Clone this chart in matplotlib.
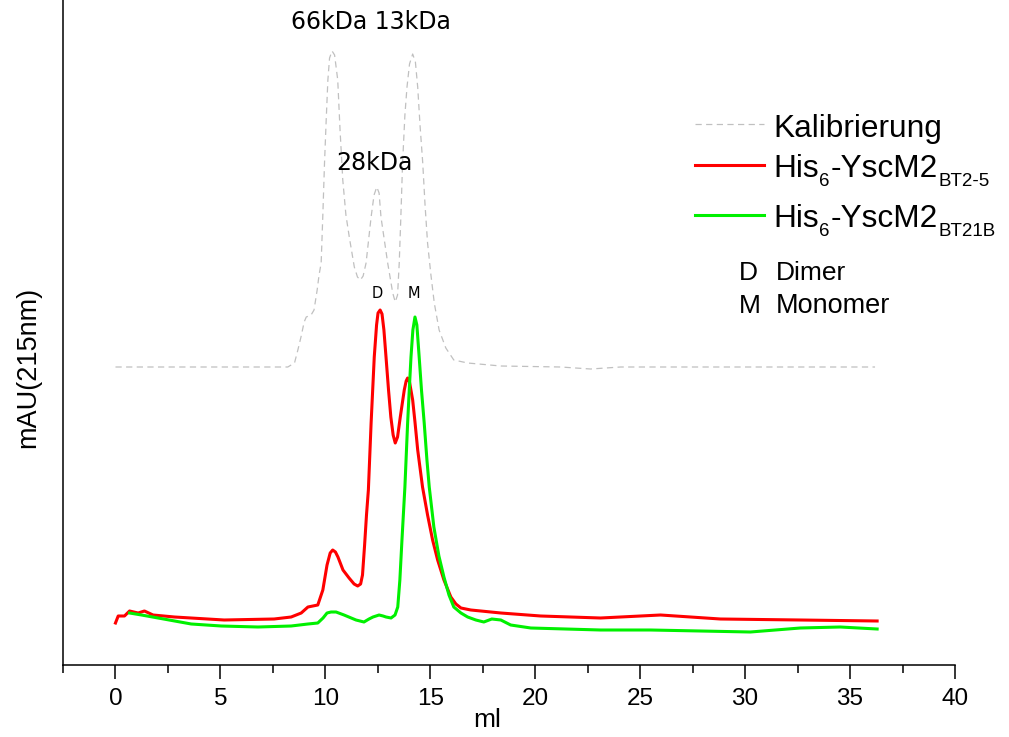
import matplotlib
matplotlib.use("Agg")
import matplotlib.pyplot as plt
import numpy as np

# ---- data (elution volume in ml, absorbance in arbitrary mAU units) ----
red_ml = [0.00, 0.13, 0.43, 0.67, 1.08, 1.38, 1.79, 2.81, 5.18, 7.56, 8.37, 8.85, 9.17, 9.64,
          9.88, 10.08, 10.23, 10.35, 10.48, 10.60, 10.84, 11.13, 11.37, 11.54, 11.68, 11.77,
          11.87, 11.96, 12.05, 12.18, 12.33, 12.44, 12.51, 12.61, 12.70, 12.79, 12.89, 13.01,
          13.12, 13.23, 13.33, 13.44, 13.57, 13.76, 13.85, 13.92, 14.01, 14.16, 14.27, 14.40,
          14.63, 14.87, 15.11, 15.35, 15.65, 15.98, 16.22, 16.46, 16.93, 17.41, 18.36, 20.26,
          23.11, 25.02, 25.97, 27.40, 28.82, 32.63, 36.29]
red_mau = [4.2, 4.9, 4.9, 5.4, 5.2, 5.4, 5.0, 4.8, 4.5, 4.6, 4.8, 5.2, 5.8, 6.0,
           7.5, 10.0, 11.2, 11.5, 11.3, 10.8, 9.5, 8.7, 8.1, 7.9, 8.1, 9.0,
           12.0, 15.0, 17.5, 24.2, 30.8, 34.0, 35.2, 35.5, 35.1, 33.5, 30.8, 27.5,
           24.8, 23.0, 22.2, 22.8, 24.8, 27.5, 28.4, 28.7, 28.3, 26.5, 24.3, 21.5,
           17.8, 15.0, 12.5, 10.5, 8.5, 6.8, 6.1, 5.7, 5.5, 5.4, 5.2, 4.9,
           4.7, 4.9, 5.0, 4.8, 4.6, 4.5, 4.4]

green_ml = [0.67, 1.24, 2.03, 3.61, 5.04, 6.79, 8.37, 9.17, 9.64, 9.89, 10.08, 10.27, 10.51,
            10.89, 11.46, 11.84, 12.08, 12.27, 12.56, 12.75, 12.89, 13.13, 13.32, 13.45, 13.55,
            13.65, 13.79, 13.92, 14.01, 14.08, 14.17, 14.27, 14.36, 14.47, 14.58, 14.71, 14.84,
            14.95, 15.17, 15.41, 15.65, 15.89, 16.12, 16.46, 16.78, 17.17, 17.55, 17.93, 18.36,
            18.83, 19.79, 23.11, 25.49, 27.87, 30.25, 32.63, 34.53, 36.29]
green_mau = [5.2, 5.0, 4.7, 4.1, 3.9, 3.8, 3.9, 4.1, 4.2, 4.7, 5.2, 5.3, 5.3,
             5.0, 4.5, 4.3, 4.6, 4.8, 5.0, 4.9, 4.8, 4.7, 5.0, 5.8, 8.5,
             12.5, 17.8, 24.2, 28.0, 30.8, 33.5, 34.8, 34.0, 30.8, 27.5, 24.2, 20.5,
             17.8, 13.8, 10.9, 8.8, 7.0, 5.8, 5.2, 4.8, 4.5, 4.3, 4.6, 4.5,
             4.0, 3.7, 3.5, 3.5, 3.4, 3.3, 3.7, 3.8, 3.6]

cal_ml = [0.00, 4.09, 8.21, 8.37, 8.53, 8.69, 8.85, 8.99, 9.09, 9.32, 9.46, 9.61, 9.70, 9.80,
          9.88, 9.96, 10.04, 10.12, 10.20, 10.32, 10.44, 10.59, 10.70, 10.83, 10.98, 11.14,
          11.38, 11.53, 11.67, 11.80, 11.94, 12.18, 12.32, 12.45, 12.56, 12.65, 12.97, 13.21,
          13.33, 13.44, 13.52, 13.60, 13.68, 13.79, 13.89, 14.01, 14.16, 14.29, 14.40, 14.51,
          14.64, 14.75, 14.87, 15.03, 15.19, 15.42, 15.74, 16.12, 16.78, 18.36, 21.21, 22.64,
          24.07, 27.87, 36.19]
cal_mau = [29.8, 29.8, 29.8, 30.0, 30.2, 31.5, 32.9, 34.3, 34.8, 35.0, 35.5, 37.5, 39.0, 40.2,
           45.0, 50.2, 54.5, 58.5, 60.7, 61.4, 61.0, 58.5, 53.5, 48.5, 45.0, 42.8,
           39.8, 38.8, 38.5, 38.9, 40.2, 44.8, 47.0, 47.8, 47.2, 44.8, 40.2, 37.2,
           36.3, 37.0, 40.2, 45.0, 50.2, 55.0, 57.8, 60.1, 61.1, 60.3, 57.8, 54.0,
           50.2, 46.0, 42.2, 39.0, 36.2, 33.5, 31.7, 30.5, 30.2, 29.9, 29.8, 29.6,
           29.8, 29.8, 29.8]

xticks = [0, 5, 10, 15, 20, 25, 30, 35, 40]
leg_main = ["His", "-YscM2"]
leg_sub_red = "BT2-5"
leg_sub_green = "BT21B"

RED = '#ff0000'
GREEN = '#00f000'
GRAY = '#c0c0c0'
DASH = (0, (5, 3.5))

fig = plt.figure(figsize=(10.09, 7.37), dpi=100)
ax = fig.add_axes([63/1009, 72/737, (955-63)/1009, 665/737])

ax.plot(cal_ml, cal_mau, color=GRAY, lw=0.9, ls=DASH)
ax.plot(red_ml, red_mau, color=RED, lw=2.2, solid_joinstyle='round')
ax.plot(green_ml, green_mau, color=GREEN, lw=2.2, solid_joinstyle='round')

ax.set_xlim(-2.43, 40)
ax.set_ylim(0, 66.5)
ax.set_yticks([])
ax.set_xticks(xticks)
ax.set_xticks(np.arange(-2.5, 40, 5), minor=True)
ax.tick_params(axis='x', which='major', length=10, width=1.1, pad=6.5, labelsize=17.5)
ax.tick_params(axis='x', which='minor', length=6, width=1.1)
for lab in ax.get_xticklabels():
    lab.set_fontfamily('Liberation Sans')
for s in ['top', 'right']:
    ax.spines[s].set_visible(False)
for s in ['left', 'bottom']:
    ax.spines[s].set_linewidth(1.1)

fig.text(487/1009, 1-720/737, "ml", ha='center', va='center', fontsize=19,
         family='Liberation Sans')
fig.text(28/1009, 1-367/737, "mAU(215nm)", ha='center', va='center', fontsize=19.5,
         rotation=90, family='Liberation Sans')

# peak annotations
ax.text(12.18, 64.3, "66kDa 13kDa", ha='center', va='center', fontsize=17, family='DejaVu Sans')
ax.text(12.32, 50.2, "28kDa", ha='center', va='center', fontsize=17, family='DejaVu Sans')
ax.text(12.46, 37.2, "D", ha='center', va='center', fontsize=10.5, family='DejaVu Sans')
ax.text(14.22, 37.2, "M", ha='center', va='center', fontsize=10.5, family='DejaVu Sans')

# legend (drawn manually)
FS = 22.8
FSS = 13.5
x_line = [27.62, 30.92]
x_txt = 31.35
ax.plot(x_line, [54.07, 54.07], color=GRAY, lw=0.9, ls=DASH, clip_on=False)
ax.text(x_txt, 52.83, "Kalibrierung", ha='left', va='baseline', fontsize=FS,
        family='Liberation Sans')


def his_label(y_base, sub):
    t1 = ax.text(x_txt, y_base, leg_main[0], ha='left', va='baseline', fontsize=FS,
                 family='Liberation Sans')
    t2 = ax.annotate("6", xy=(1, 0), xycoords=t1, xytext=(0.3, -4.6),
                     textcoords='offset points', ha='left', va='bottom', fontsize=FSS,
                     family='Liberation Sans')
    t3 = ax.annotate(leg_main[1], xy=(1, 0), xycoords=(t2, t1), xytext=(0.3, 0),
                     textcoords='offset points', ha='left', va='bottom', fontsize=FS,
                     family='Liberation Sans')
    ax.annotate(sub, xy=(1, 0), xycoords=(t3, t2), xytext=(0.5, 0),
                textcoords='offset points', ha='left', va='bottom', fontsize=FSS,
                family='Liberation Sans')


ax.plot(x_line, [50.0, 50.0], color=RED, lw=2.2, clip_on=False)
his_label(48.83, leg_sub_red)
ax.plot(x_line, [45.0, 45.0], color=GREEN, lw=2.2, clip_on=False)
his_label(43.83, leg_sub_green)

ax.text(29.72, 38.5, "D", ha='left', va='baseline', fontsize=19, family='Liberation Sans')
ax.text(31.45, 38.5, "Dimer", ha='left', va='baseline', fontsize=19, family='Liberation Sans')
ax.text(29.72, 35.2, "M", ha='left', va='baseline', fontsize=19, family='Liberation Sans')
ax.text(31.45, 35.2, "Monomer", ha='left', va='baseline', fontsize=19.5, family='Liberation Sans')

fig.savefig("out.png", dpi=100)
